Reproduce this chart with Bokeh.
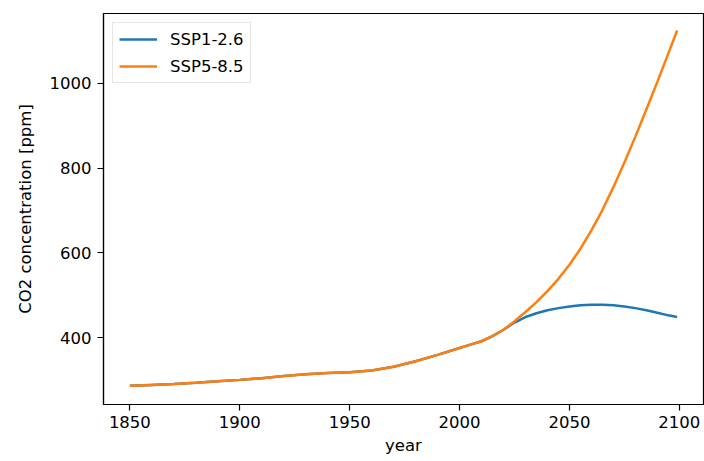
from bokeh.plotting import figure
from bokeh.models import Range1d, Legend, LegendItem, FixedTicker
from bokeh.embed import file_html
from bokeh.resources import INLINE

# Shared historical CO2 concentration (ppm)
hist_years = [1850, 1860, 1870, 1880, 1890, 1900, 1910, 1920, 1930, 1940,
              1950, 1960, 1970, 1980, 1990, 2000, 2005, 2010, 2015, 2020]
hist_co2 = [287, 289, 291, 294, 298, 301, 305, 310, 314, 317,
            319, 323, 332, 345, 360, 376, 384, 392, 404, 419]

# Scenario projections (ppm)
future_years = [2025, 2030, 2035, 2040, 2045, 2050, 2055, 2060, 2065, 2070,
                2075, 2080, 2085, 2090, 2095, 2099]
ssp126_future = [436, 449, 458, 465, 470, 474, 477, 478, 478, 477,
                 474, 470, 465, 459, 453, 449]
ssp585_future = [439, 461, 484, 510, 539, 572, 610, 653, 701, 755,
                 813, 874, 938, 1003, 1070, 1124]

x_ticks = [1850, 1900, 1950, 2000, 2050, 2100]
y_ticks = [400, 600, 800, 1000]

FONT = "DejaVu Sans"
FSIZE = "16.5px"

p = figure(width=704, height=461, output_backend="svg", toolbar_location=None,
           x_range=Range1d(1838, 2111), y_range=Range1d(243, 1164),
           min_border_left=103, min_border_right=1,
           min_border_top=13, min_border_bottom=57)

r126 = p.line(hist_years + future_years, hist_co2 + ssp126_future,
              line_color="#1f77b4", line_width=2.5)
r585 = p.line(hist_years + future_years, hist_co2 + ssp585_future,
              line_color="#ff7f0e", line_width=2.5)

p.xgrid.visible = False
p.ygrid.visible = False
p.outline_line_color = "black"
p.outline_line_width = 1.2
p.background_fill_color = "white"
p.border_fill_color = "white"

p.xaxis.ticker = FixedTicker(ticks=x_ticks)
p.yaxis.ticker = FixedTicker(ticks=y_ticks)
p.xaxis.axis_label = "year"
p.yaxis.axis_label = "CO2 concentration [ppm]"

for ax in (p.xaxis, p.yaxis):
    ax.axis_line_color = "black"
    ax.axis_line_width = 1.2
    ax.major_tick_line_color = "black"
    ax.major_tick_line_width = 1.2
    ax.major_tick_out = 6
    ax.major_tick_in = 0
    ax.minor_tick_line_color = None
    ax.major_label_text_font = FONT
    ax.major_label_text_font_size = FSIZE
    ax.major_label_text_color = "black"
    ax.axis_label_text_font = FONT
    ax.axis_label_text_font_size = FSIZE
    ax.axis_label_text_font_style = "normal"
    ax.axis_label_text_color = "black"

p.xaxis.major_label_standoff = 5
p.xaxis.axis_label_standoff = 5
p.yaxis.major_label_standoff = 6
p.yaxis.axis_label_standoff = 12

legend = Legend(items=[LegendItem(label="SSP1-2.6", renderers=[r126]),
                       LegendItem(label="SSP5-8.5", renderers=[r585])],
                location="top_left", margin=9, padding=6, spacing=7,
                glyph_width=38, glyph_height=20, label_height=20,
                label_standoff=13,
                label_text_font=FONT, label_text_font_size=FSIZE,
                label_text_color="black",
                border_line_color="#cccccc", border_line_width=1,
                background_fill_color="white", background_fill_alpha=0.8)
p.add_layout(legend)

open("out.html", "w").write(file_html(p, INLINE))
